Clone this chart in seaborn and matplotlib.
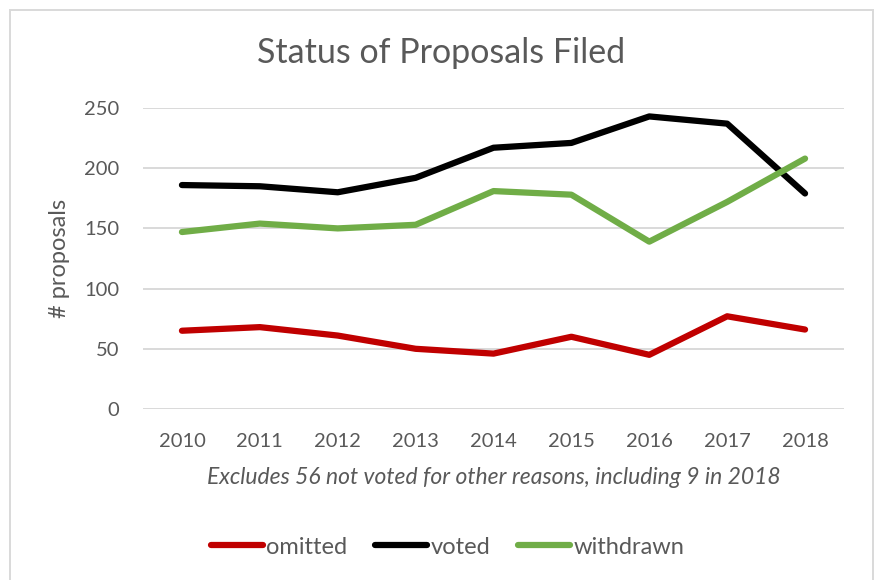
import matplotlib
matplotlib.use("Agg")
import matplotlib.pyplot as plt
import seaborn as sns
import pandas as pd
from matplotlib.patches import Rectangle

# Proposal counts per year, by outcome
years = ["2010", "2011", "2012", "2013", "2014", "2015", "2016", "2017", "2018"]
omitted = [65, 68, 61, 50, 46, 60, 45, 77, 66]
voted = [186, 185, 180, 192, 217, 221, 243, 237, 179]
withdrawn = [147, 154, 150, 153, 181, 178, 139, 172, 208]

series_names = ["omitted", "voted", "withdrawn"]
series_colors = ["#C00000", "#000000", "#70AD47"]
y_ticks = [0, 50, 100, 150, 200, 250]

title = "Status of Proposals Filed"
y_label = "# proposals"
note = "Excludes 56 not voted for other reasons, including 9 in 2018"

df = pd.DataFrame({
    "year": years * 3,
    "count": omitted + voted + withdrawn,
    "status": [s for s in series_names for _ in years],
})

sns.set_theme(style="white")
plt.rcParams["font.family"] = ["Lato", "DejaVu Sans"]
text_color = "#595959"
grid_color = "#D9D9D9"

W, H = 874, 580
fig = plt.figure(figsize=(W / 100, H / 100), dpi=100, facecolor="white")
ax = fig.add_axes([143 / W, 1 - 409 / H, (844 - 143) / W, (409 - 108) / H])

sns.lineplot(
    data=df, x="year", y="count", hue="status",
    hue_order=series_names, palette=dict(zip(series_names, series_colors)),
    linewidth=4.5, sort=False, ax=ax,
)
for line in ax.get_lines():
    line.set_solid_capstyle("round")
    line.set_solid_joinstyle("round")

ax.set_xlim(-0.5, len(years) - 0.5)
ax.set_ylim(0, 250)
ax.set_yticks(y_ticks)
ax.set_xlabel("")
ax.set_ylabel(y_label, fontsize=17, color=text_color, labelpad=10)
ax.yaxis.grid(True, color=grid_color, linewidth=1.4)
ax.set_axisbelow(True)
for sp in ax.spines.values():
    sp.set_visible(False)
ax.tick_params(axis="both", length=0, labelsize=14.5, labelcolor=text_color)
ax.tick_params(axis="x", pad=17)
ax.tick_params(axis="y", pad=17)

fig.text(441 / W, 1 - 53 / H, title, ha="center", va="center",
         fontsize=24.5, color=text_color)
fig.text(493.5 / W, 1 - 477 / H, note, ha="center", va="center",
         fontsize=16.5, style="italic", color=text_color)

handles, labels = ax.get_legend_handles_labels()
ax.get_legend().remove()
for h in handles:
    h.set_solid_capstyle("round")
leg = fig.legend(handles, labels, loc="center", bbox_to_anchor=(447.5 / W, 1 - 547 / H),
                 ncol=3, frameon=False, fontsize=17, handlelength=2.2,
                 handletextpad=0.13, columnspacing=1.2, labelcolor=text_color)

fig.patches.append(Rectangle((10 / W, -0.05), (872.5 - 10) / W, 1 - 9.5 / H + 0.05,
                             transform=fig.transFigure, fill=False,
                             edgecolor=grid_color, linewidth=1.4))

fig.savefig("out.png", dpi=100, facecolor="white")
